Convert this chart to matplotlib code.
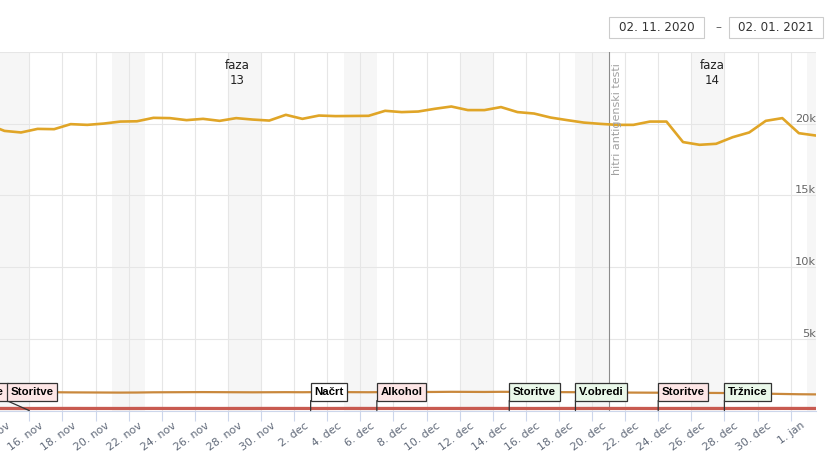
import numpy as np
import pandas as pd
import matplotlib
matplotlib.use("Agg")
import matplotlib.pyplot as plt
import matplotlib.dates as mdates
import matplotlib.transforms as mtrans
from matplotlib.patches import Rectangle

# ---------------- data ----------------
dates = pd.date_range("2020-11-13 12:00", "2021-01-02 12:00", freq="D")

gold = [19950, 19500, 19390, 19640, 19620, 19970, 19920, 20010, 20150, 20170,
        20410, 20390, 20250, 20340, 20200, 20390, 20290, 20220,
        20620, 20340, 20570, 20530, 20540, 20550, 20900, 20810, 20850, 21040,
        21200, 20950, 20950, 21160, 20810, 20710, 20430, 20250, 20080, 19990,
        19920, 19920, 20150, 20150, 18720, 18530, 18600, 19060, 19390, 20200,
        20390, 19340, 19180]

orange = [1270, 1280, 1275, 1285, 1280, 1270, 1265, 1260, 1255, 1260, 1275,
          1280, 1285, 1290, 1285, 1280, 1275, 1280,
          1285, 1280, 1290, 1290, 1285, 1280, 1290, 1300, 1295, 1300, 1310,
          1305, 1300, 1310, 1305, 1300, 1290, 1285, 1280, 1270, 1260, 1255,
          1250, 1245, 1240, 1235, 1230, 1220, 1200, 1180, 1160,
          1140, 1130]

red = [150, 150, 148, 148, 150, 152, 150, 150, 148, 150, 152, 150, 150, 150,
       148, 150, 150, 152, 150, 150, 148, 150, 152, 150, 150, 150, 148, 150,
       150, 150, 152, 150, 150, 148, 150, 150, 150, 152, 150, 150, 148, 150,
       150, 150, 150, 148, 150, 150, 152, 150, 150]

flag_dates = ["2020-11-13", "2020-11-16", "2020-12-03", "2020-12-07",
              "2020-12-15", "2020-12-19", "2020-12-24", "2020-12-28"]
flag_labels = ["Trgovine", "Storitve", "Načrt", "Alkohol", "Storitve",
               "V.obredi", "Storitve", "Tržnice"]
flag_kind = ["neg", "neg", "neutral", "neg", "pos", "pos", "neg", "pos"]

phase_labels = ["faza\n13", "faza\n14"]
phase_dates = ["2020-11-28 13:00", "2020-12-27 06:00"]

event_date = "2020-12-21"
event_label = "hitri antigenski testi"

yticks = [5000, 10000, 15000, 20000]
ytick_labels = ["5k", "10k", "15k", "20k"]

tick_dates = pd.date_range("2020-11-14", "2021-01-01", freq="2D")
month_names = {11: "nov", 12: "dec", 1: "jan"}

range_from = "02. 11. 2020"
range_to = "02. 01. 2021"

# ---------------- layout / style ----------------
W, H = 838, 463
fig = plt.figure(figsize=(W / 100, H / 100), dpi=100)
top_px, bot_px, right_px = 52.0, 410.6, 816.0
ax = fig.add_axes([0, 1 - bot_px / H, right_px / W, (bot_px - top_px) / H])

px_per_day = 16.55
x0 = mdates.date2num(np.datetime64("2020-11-16")) - 29.3 / px_per_day
x1 = x0 + right_px / px_per_day

for s in ["left", "right", "top"]:
    ax.spines[s].set_visible(False)
ax.spines["bottom"].set_color("#ccd6eb")
ax.spines["bottom"].set_linewidth(0.8)

# weekend bands
for d in pd.date_range("2020-11-07", "2021-01-02", freq="7D"):
    s = mdates.date2num(d)
    ax.axvspan(s, s + 2, color="#f6f6f6", zorder=0, lw=0)

# grid
ax.set_xticks(mdates.date2num(tick_dates))
ax.set_xticklabels([])
ax.set_yticks(yticks + [25000])
ax.set_yticklabels([])
ax.tick_params(axis="y", length=0)
ax.tick_params(axis="x", length=7.2, width=0.8, color="#ccd6eb", direction="out")
ax.grid(True, color="#e6e6e6", lw=0.8, zorder=1)
ax.set_axisbelow(True)

trans_x = mtrans.blended_transform_factory(ax.transData, ax.transAxes)
trans_y = mtrans.blended_transform_factory(ax.transAxes, ax.transData)

# x tick labels (manual, rotated)
for d in tick_dates:
    lab = f"{d.day}. {month_names[d.month]}"
    off = mtrans.ScaledTranslation(10 / 100, -10 / 100, fig.dpi_scale_trans)
    ax.text(mdates.date2num(d), 0, lab, transform=trans_x + off,
            rotation=36, rotation_mode="anchor", ha="right", va="top",
            fontsize=7.8, color="#5f6878", family="DejaVu Sans", clip_on=False)

# y labels inside right
for v, lab in zip(yticks, ytick_labels):
    ax.text(1.0, v, lab, transform=trans_y, ha="right", va="bottom",
            fontsize=8.2, color="#666666", family="DejaVu Sans")

# series
xd = mdates.date2num(dates)
ax.plot(xd, gold, color="#e0a527", lw=1.9, zorder=5, solid_joinstyle="round")
ax.plot(xd, orange, color="#c9883c", lw=1.6, zorder=5)
ax.plot(xd, red, color="#c85a50", lw=2.3, zorder=5)

# event line
ex = mdates.date2num(np.datetime64(event_date))
ax.axvline(ex, color="#8c8c8c", lw=0.8, zorder=4)
off = mtrans.ScaledTranslation(3 / 100, -11 / 100, fig.dpi_scale_trans)
ax.text(ex, 1.0, event_label, transform=trans_x + off, rotation=90,
        rotation_mode="anchor", ha="right", va="top", fontsize=8,
        color="#a0a0a0", family="DejaVu Sans", zorder=6)

# phase labels
for lab, d in zip(phase_labels, phase_dates):
    off = mtrans.ScaledTranslation(0, -7 / 100, fig.dpi_scale_trans)
    ax.text(mdates.date2num(np.datetime64(d)), 1.0, lab, transform=trans_x + off,
            ha="center", va="top", fontsize=8.5, color="#222222",
            family="DejaVu Sans", linespacing=1.15, multialignment="center")

# flags
fill = {"neg": "#fde6e6", "pos": "#eaf8ea", "neutral": "#ffffff"}
shift_px = [-27, -22.6, 0, 0, 0, 0, 0, 0]
pad = 0.32
fs = 8.2
padpx = pad * fs * 100 / 72
for d, lab, k, sh in zip(flag_dates, flag_labels, flag_kind, shift_px):
    xdn = mdates.date2num(np.datetime64(d))
    ax.annotate("", xy=(xdn, 0), xycoords="data", xytext=(sh, 10),
                textcoords="offset pixels",
                arrowprops=dict(arrowstyle="-", shrinkA=0, shrinkB=0,
                                color="#333333", lw=0.9),
                annotation_clip=False, zorder=7)
    ax.annotate(lab, xy=(xdn, 0), xycoords="data",
                xytext=(sh + padpx, 10 + padpx), textcoords="offset pixels",
                ha="left", va="bottom", fontsize=fs, fontweight="bold",
                family="Liberation Sans", color="black",
                bbox=dict(boxstyle=f"square,pad={pad}", fc=fill[k],
                          ec="#333333", lw=0.9),
                annotation_clip=False, zorder=8)

ax.set_xlim(x0, x1)
ax.set_ylim(0, 25000)

# date range inputs
def box(xa, xb, ya, yb, text):
    fig.add_artist(Rectangle((xa / W, 1 - yb / H), (xb - xa) / W, (yb - ya) / H,
                             transform=fig.transFigure, fill=False,
                             ec="#cccccc", lw=0.8))
    fig.text((xa + xb) / 2 / W, 1 - (ya + yb) / 2 / H, text, ha="center",
             va="center", fontsize=8.6, color="#333333", family="DejaVu Sans")

box(609, 704, 17, 38, range_from)
box(729, 823, 17, 38, range_to)
fig.text(718 / W, 1 - 27.5 / H, "–", ha="center", va="center", fontsize=8.6,
         color="#666666", family="DejaVu Sans")

fig.savefig("out.png", dpi=100)
